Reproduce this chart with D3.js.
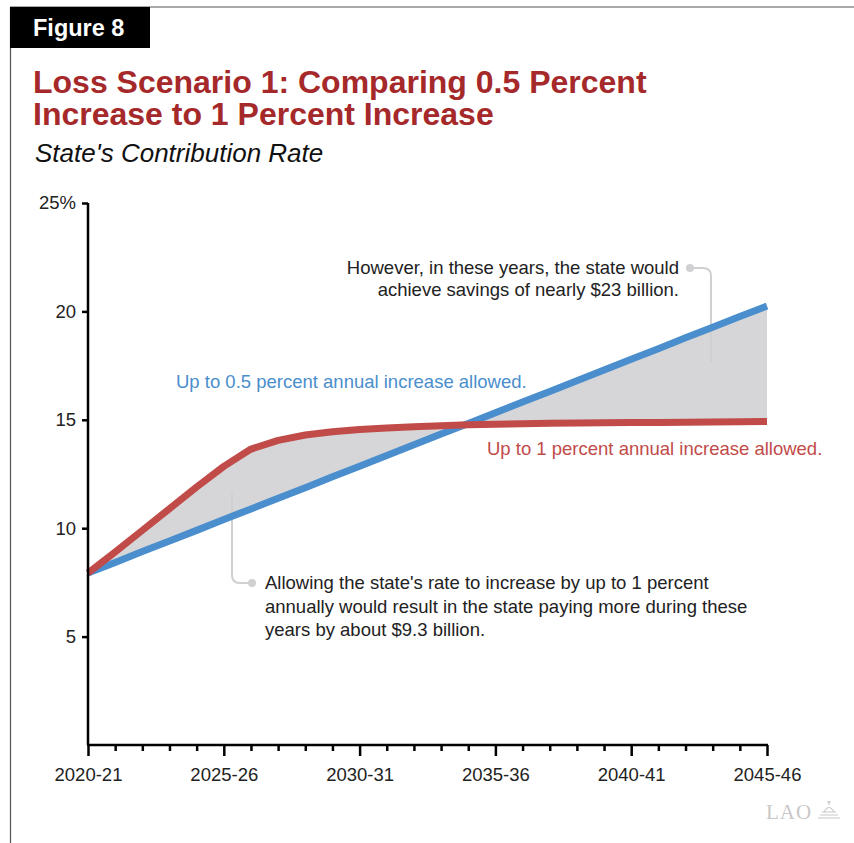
<!DOCTYPE html>
<html>
<head>
<meta charset="utf-8">
<script src="https://cdn.jsdelivr.net/npm/d3@7/dist/d3.min.js"></script>
<style>
  html, body { margin: 0; padding: 0; background: #fff; }
  svg { display: block; font-family: "Liberation Sans", Arial, Helvetica, sans-serif; }
</style>
</head>
<body>
<svg id="chart" width="854" height="843"></svg>
<script>
// Fiscal years 2020-21 through 2045-46 (first year of each)
const years = d3.range(2020, 2046);
// State's contribution rate (%), rate increases capped at 0.5 percent per year
const halfPercentCap = [7.93, 8.42, 8.92, 9.41, 9.90, 10.40, 10.89, 11.38, 11.87, 12.37, 12.86, 13.35, 13.85,
  14.34, 14.83, 15.33, 15.82, 16.31, 16.80, 17.30, 17.79, 18.28, 18.78, 19.27, 19.76, 20.25];
// State's contribution rate (%), rate increases capped at 1 percent per year
const onePercentCap = [7.93, 8.9, 9.9, 10.9, 11.9, 12.85, 13.65, 14.05, 14.3, 14.45, 14.55, 14.62, 14.68, 14.73,
  14.77, 14.8, 14.82, 14.84, 14.85, 14.86, 14.87, 14.88, 14.89, 14.9, 14.91, 14.92];
const yTicks = [5, 10, 15, 20, 25];
const xMajorYears = [2020, 2025, 2030, 2035, 2040, 2045];
const fyLabel = y => `${y}-${String((y + 1) % 100).padStart(2, "0")}`;

const svg = d3.select("#chart");
const RED = "#c14b49", BLUE = "#4a8ecd", TITLE = "#a5282a", NOTE = "#d0d0d2", INK = "#222";

// Frame
svg.append("line").attr("x1", 10).attr("x2", 854).attr("y1", 7).attr("y2", 7)
  .attr("stroke", "#555").attr("stroke-width", 1.2);
svg.append("line").attr("x1", 10.5).attr("x2", 10.5).attr("y1", 7).attr("y2", 843)
  .attr("stroke", "#555").attr("stroke-width", 1.2);
svg.append("rect").attr("x", 10).attr("y", 7).attr("width", 140).attr("height", 41).attr("fill", "#000");
svg.append("text").attr("x", 33).attr("y", 36).attr("fill", "#fff")
  .attr("font-size", 23.5).attr("font-weight", "bold").text("Figure 8");

// Titles
const title = svg.append("text").attr("fill", TITLE).attr("font-size", 32).attr("font-weight", "bold");
title.append("tspan").attr("x", 33).attr("y", 93).text("Loss Scenario 1: Comparing 0.5 Percent");
title.append("tspan").attr("x", 33).attr("y", 125).text("Increase to 1 Percent Increase");
svg.append("text").attr("x", 35).attr("y", 162).attr("font-size", 26).attr("font-style", "italic")
  .attr("fill", "#111").text("State's Contribution Rate");

// Scales
const x = d3.scaleLinear().domain([2020, 2045]).range([88, 767]);
const y = d3.scaleLinear().domain([0, 25]).range([745, 203]);

// Shaded gap between the two paths
const area = d3.area()
  .x((d, i) => x(years[i]))
  .y0((d, i) => y(halfPercentCap[i]))
  .y1((d, i) => y(onePercentCap[i]));
svg.append("path").datum(years).attr("d", area).attr("fill", "#d6d6d8");

// Annotation connectors
const noteTop = d3.path();
noteTop.moveTo(690, 268); noteTop.lineTo(703, 268);
noteTop.quadraticCurveTo(711, 268, 711, 276); noteTop.lineTo(711, 362);
svg.append("path").attr("d", noteTop.toString()).attr("fill", "none").attr("stroke", NOTE).attr("stroke-width", 2);
svg.append("circle").attr("cx", 690).attr("cy", 268).attr("r", 4).attr("fill", NOTE);

const noteBottom = d3.path();
noteBottom.moveTo(232, 493); noteBottom.lineTo(232, 575);
noteBottom.quadraticCurveTo(232, 583, 240, 583); noteBottom.lineTo(252, 583);
svg.append("path").attr("d", noteBottom.toString()).attr("fill", "none").attr("stroke", NOTE).attr("stroke-width", 2);
svg.append("circle").attr("cx", 252).attr("cy", 583).attr("r", 4).attr("fill", NOTE);

// Series lines
const line = d3.line().x((d, i) => x(years[i])).y(d => y(d));
svg.append("path").datum(halfPercentCap).attr("d", line).attr("fill", "none")
  .attr("stroke", BLUE).attr("stroke-width", 7).attr("stroke-linejoin", "round");
svg.append("path").datum(onePercentCap).attr("d", line).attr("fill", "none")
  .attr("stroke", RED).attr("stroke-width", 7).attr("stroke-linejoin", "round");

// Axes
const yAxis = d3.axisLeft(y).tickValues(yTicks).tickSize(6)
  .tickFormat(d => d === 25 ? "25%" : d);
const gy = svg.append("g").attr("transform", "translate(88,0)").call(yAxis);
gy.select(".domain").attr("stroke-width", 2.5).attr("d", "M0,203V745");
gy.selectAll(".tick line").attr("stroke-width", 2.5);
gy.selectAll(".tick text").attr("font-size", 18.5).attr("fill", INK).attr("x", -12)
  .attr("font-family", "Liberation Sans, Arial, sans-serif");

const gxMinor = svg.append("g").attr("transform", "translate(0,745)")
  .call(d3.axisBottom(x).tickValues(years.filter(v => !xMajorYears.includes(v))).tickSize(6).tickFormat(""));
gxMinor.select(".domain").remove();
gxMinor.selectAll(".tick line").attr("stroke-width", 2.5);

const gx = svg.append("g").attr("transform", "translate(0,745)")
  .call(d3.axisBottom(x).tickValues(xMajorYears).tickSize(11).tickFormat(fyLabel));
gx.select(".domain").attr("stroke-width", 2.5).attr("d", "M87,0H768");
gx.selectAll(".tick line").attr("stroke-width", 2.5);
gx.selectAll(".tick text").attr("font-size", 18.5).attr("fill", INK).attr("y", 23)
  .attr("font-family", "Liberation Sans, Arial, sans-serif");

// Series labels
svg.append("text").attr("x", 176).attr("y", 388).attr("font-size", 18.5).attr("fill", BLUE)
  .text("Up to 0.5 percent annual increase allowed.");
svg.append("text").attr("x", 487).attr("y", 455).attr("font-size", 18.5).attr("fill", RED)
  .text("Up to 1 percent annual increase allowed.");

// Annotation texts
const t1 = svg.append("text").attr("font-size", 18.5).attr("fill", INK).attr("text-anchor", "end");
t1.append("tspan").attr("x", 679).attr("y", 274).text("However, in these years, the state would");
t1.append("tspan").attr("x", 679).attr("y", 296).text("achieve savings of nearly $23 billion.");
const t2 = svg.append("text").attr("font-size", 18.5).attr("fill", INK);
t2.append("tspan").attr("x", 265).attr("y", 589).text("Allowing the state's rate to increase by up to 1 percent");
t2.append("tspan").attr("x", 265).attr("y", 613).text("annually would result in the state paying more during these");
t2.append("tspan").attr("x", 265).attr("y", 636).text("years by about $9.3 billion.");

// LAO mark
svg.append("text").attr("x", 766).attr("y", 819).attr("font-size", 21).attr("letter-spacing", 1)
  .attr("font-family", "Liberation Serif, DejaVu Serif, serif").attr("fill", "#c8c8c8").text("LAO");
const dome = svg.append("g").attr("fill", "none").attr("stroke", "#c8c8c8").attr("stroke-width", 1.2);
dome.append("path").attr("d", "M818,818H840M820,815H838M822,812H836M824,812Q829,803 834,812M829,805V801M827,802H831");
</script>
</body>
</html>
